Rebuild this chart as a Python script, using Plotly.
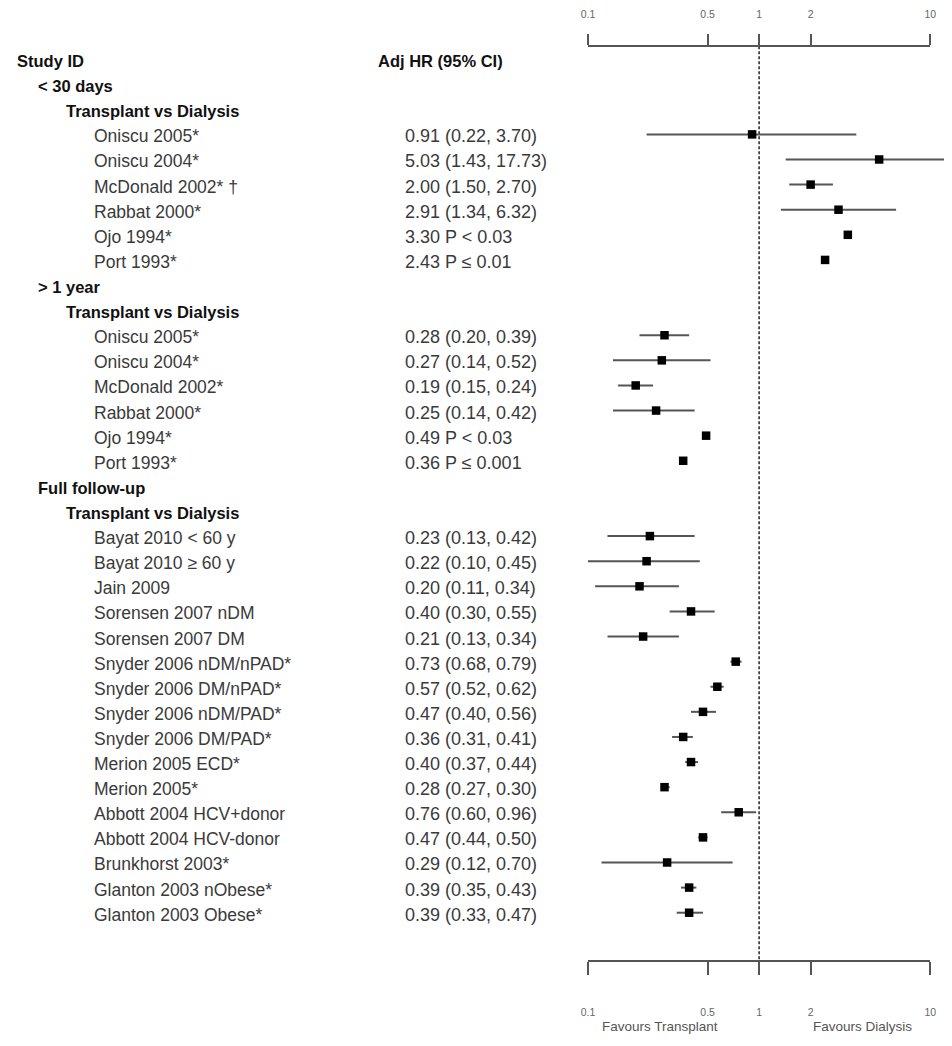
import plotly.graph_objects as go

# ---- data -------------------------------------------------------------
periods = ["< 30 days", "> 1 year", "Full follow-up"]
comparison = "Transplant vs Dialysis"

studies_30d = ["Oniscu 2005*", "Oniscu 2004*", "McDonald 2002* \u2020", "Rabbat 2000*",
               "Ojo 1994*", "Port 1993*"]
hr_30d = [0.91, 5.03, 2.00, 2.91, 3.30, 2.43]
lo_30d = [0.22, 1.43, 1.50, 1.34, None, None]
hi_30d = [3.70, 17.73, 2.70, 6.32, None, None]
pval_30d = [None, None, None, None, "P < 0.03", "P \u2264 0.01"]

studies_1y = ["Oniscu 2005*", "Oniscu 2004*", "McDonald 2002*", "Rabbat 2000*",
              "Ojo 1994*", "Port 1993*"]
hr_1y = [0.28, 0.27, 0.19, 0.25, 0.49, 0.36]
lo_1y = [0.20, 0.14, 0.15, 0.14, None, None]
hi_1y = [0.39, 0.52, 0.24, 0.42, None, None]
pval_1y = [None, None, None, None, "P < 0.03", "P \u2264 0.001"]

studies_full = ["Bayat 2010 < 60 y", "Bayat 2010 \u2265 60 y", "Jain 2009",
                "Sorensen 2007 nDM", "Sorensen 2007 DM", "Snyder 2006 nDM/nPAD*",
                "Snyder 2006 DM/nPAD*", "Snyder 2006 nDM/PAD*", "Snyder 2006 DM/PAD*",
                "Merion 2005 ECD*", "Merion 2005*", "Abbott 2004 HCV+donor",
                "Abbott 2004 HCV-donor", "Brunkhorst 2003*", "Glanton 2003 nObese*",
                "Glanton 2003 Obese*"]
hr_full = [0.23, 0.22, 0.20, 0.40, 0.21, 0.73, 0.57, 0.47, 0.36, 0.40, 0.28, 0.76,
           0.47, 0.29, 0.39, 0.39]
lo_full = [0.13, 0.10, 0.11, 0.30, 0.13, 0.68, 0.52, 0.40, 0.31, 0.37, 0.27, 0.60,
           0.44, 0.12, 0.35, 0.33]
hi_full = [0.42, 0.45, 0.34, 0.55, 0.34, 0.79, 0.62, 0.56, 0.41, 0.44, 0.30, 0.96,
           0.50, 0.70, 0.43, 0.47]
pval_full = [None] * len(studies_full)

tick_vals = [0.1, 0.5, 1, 2, 10]
tick_text = ["0.1", "0.5", "1", "2", "10"]

# ---- layout constants (window pixels) -----------------------------------
WIN_W, WIN_H = 952, 1046
PAGE = 8                            # default body margin of the html page
W, H = WIN_W - PAGE, WIN_H - PAGE
PX_LOW, PX_HIGH = 589, 936          # window x of 0.1 and 10
PER_DEC = (PX_HIGH - PX_LOW) / 2.0
ROW0, ROW_H = 56.2, 25.18           # window y of first row, row spacing
AXIS_TOP, AXIS_BOT = 43.3, 960.7
INDENT = [PAGE, 29, 58, 86]
COL_HR = 401
COL_HR_HEAD = 374

FONT = "Liberation Sans, Arial, Helvetica, sans-serif"


def fx(px):
    return (px - PAGE) / W


def fy(py):
    return 1 - (py - PAGE) / H


def px_to_row(py):
    return (py - ROW0) / ROW_H


def px_to_dec(px):
    return -1 + (px - PX_LOW) / PER_DEC


# ---- build rows ---------------------------------------------------------
blocks = [
    (studies_30d, hr_30d, lo_30d, hi_30d, pval_30d),
    (studies_1y, hr_1y, lo_1y, hi_1y, pval_1y),
    (studies_full, hr_full, lo_full, hi_full, pval_full),
]

annotations = []


def label(text, row, px, bold=False, size=17.5):
    annotations.append(dict(
        text="<b>%s</b>" % text if bold else text,
        x=fx(px), xref="paper", y=row, yref="y",
        xanchor="left", yanchor="middle", showarrow=False, yshift=-2,
        font=dict(family=FONT, size=16.5 if bold else size,
                  color="#111111" if bold else "#3a3a3a")))


label("Study ID", 0, INDENT[0], bold=True)
label("Adj HR (95% CI)", 0, COL_HR_HEAD, bold=True)

pt_x, pt_y = [], []
ci_x, ci_y = [], []
row = 1
for period, (names, hr, lo, hi, pv) in zip(periods, blocks):
    label(period, row, INDENT[1], bold=True)
    row += 1
    label(comparison, row, INDENT[2], bold=True)
    row += 1
    for name, h, l, u, p in zip(names, hr, lo, hi, pv):
        label(name, row, INDENT[3])
        if l is not None:
            txt = "%.2f (%.2f, %.2f)" % (h, l, u)
            ci_x += [l, u, None]
            ci_y += [row, row, None]
        else:
            txt = "%.2f %s" % (h, p)
        label(txt, row, COL_HR, size=18)
        pt_x.append(h)
        pt_y.append(row)
        row += 1

fig = go.Figure()

# reference line at HR = 1
fig.add_trace(go.Scatter(
    x=[1, 1], y=[px_to_row(AXIS_TOP), px_to_row(AXIS_BOT)], mode="lines",
    line=dict(color="#222222", width=1.5, dash="3px,2px"),
    hoverinfo="skip", showlegend=False))

# confidence intervals
fig.add_trace(go.Scatter(
    x=ci_x, y=ci_y, mode="lines", line=dict(color="#555555", width=2),
    connectgaps=False, hoverinfo="skip", showlegend=False))

# point estimates
fig.add_trace(go.Scatter(
    x=pt_x, y=pt_y, mode="markers",
    marker=dict(symbol="square", size=8.5, color="#000000"),
    showlegend=False))

# dummy traces so the top and bottom scale axes are drawn
for ax in ["x2", "x3"]:
    fig.add_trace(go.Scatter(
        x=tick_vals, y=[0] * len(tick_vals), xaxis=ax, mode="markers",
        marker=dict(opacity=0), hoverinfo="skip", showlegend=False))

scale_axis = dict(
    type="log", range=[-1, 1], domain=[fx(PX_LOW), fx(PX_HIGH)],
    anchor="free", fixedrange=True,
    tickvals=tick_vals, ticktext=tick_text, ticks="outside",
    tickwidth=1.5, tickcolor="#555555",
    showline=True, linecolor="#555555", linewidth=1.5,
    showgrid=False, zeroline=False,
    tickfont=dict(family=FONT, size=10.5, color="#666666"))

annotations += [
    dict(text="Favours Transplant", x=fx(662), xref="paper", y=fy(1026),
         yref="paper", xanchor="center", yanchor="middle", showarrow=False,
         font=dict(family=FONT, size=13.5, color="#555555")),
    dict(text="Favours Dialysis", x=fx(867), xref="paper", y=fy(1026),
         yref="paper", xanchor="center", yanchor="middle", showarrow=False,
         font=dict(family=FONT, size=13.5, color="#555555")),
]

fig.update_layout(
    width=W, height=H, margin=dict(l=0, r=0, t=0, b=0),
    paper_bgcolor="white", plot_bgcolor="rgba(0,0,0,0)",
    xaxis=dict(type="log", range=[px_to_dec(PAGE), px_to_dec(WIN_W)],
               domain=[0, 1], visible=False, fixedrange=True),
    xaxis2=dict(scale_axis, side="top", position=fy(AXIS_TOP),
                ticklen=11.6, ticklabelstandoff=12),
    xaxis3=dict(scale_axis, side="bottom", position=fy(AXIS_BOT),
                ticklen=13, ticklabelstandoff=29),
    yaxis=dict(range=[px_to_row(WIN_H), px_to_row(PAGE)], domain=[0, 1],
               visible=False, fixedrange=True),
    annotations=annotations,
    showlegend=False,
)

fig.write_html("out.html")
